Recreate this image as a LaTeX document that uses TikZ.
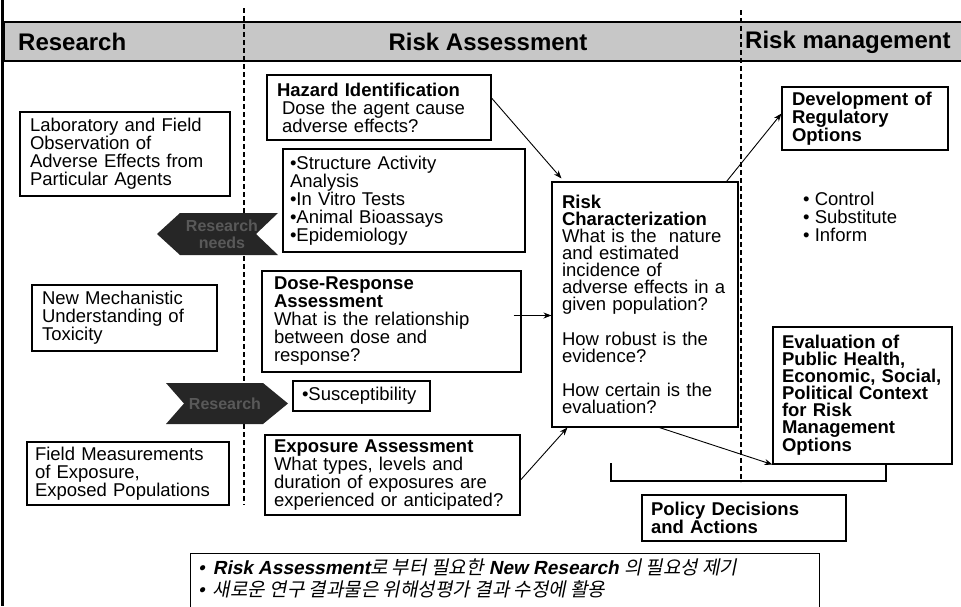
\documentclass[tikz,border=0pt]{standalone}
\usepackage{fontspec}
\setmainfont{Liberation Sans}
\newfontfamily\krfont{Noto Sans CJK KR}
\usetikzlibrary{arrows.meta}

\begin{document}
\begin{tikzpicture}[x=1pt,y=-1pt,
  box/.style={draw, line width=1.1pt, align=left, inner ysep=2pt,
    font=\fontsize{18.5}{18}\selectfont},
  tight/.style={font=\fontsize{18.5}{17}\selectfont},
  arr/.style={-{Stealth[length=8pt,width=6pt]}, line width=0.9pt},
  hdr/.style={font=\fontsize{24}{24}\selectfont\bfseries, inner sep=0pt},
  divider/.style={line width=1.4pt, dash pattern=on 5pt off 3pt},
  banner/.style={fill=black!85},
  bannertext/.style={text=black!65, font=\fontsize{16}{17}\selectfont\bfseries,
    align=center, inner sep=0pt},
  noteline/.style={transform shape, anchor=base west, inner sep=0pt,
    font=\fontsize{19}{22}\selectfont}
]
\clip (0,0) rectangle (961,606);
\fill[white] (0,0) rectangle (961,606);

% left rule and header band
\draw[line width=3pt] (2,0) -- (2,606);
\draw[line width=1.4pt, fill=black!22] (4,22) rectangle (966,61);
\node[hdr, anchor=west] (hres) at (18,42) {Research};
\node[hdr] (hra) at (488,42) {Risk Assessment};
\node[hdr, anchor=west] (hrm) at (745,42) {Risk management};

% column dividers
\draw[divider] (244,8) -- (244,505);
\draw[divider] (741,10) -- (741,482);

% research column
\node[box, minimum width=210pt, minimum height=84pt, inner xsep=10pt, text width=190pt]
  (lab) at (125,154) {Laboratory and Field\\Observation of\\Adverse Effects from\\Particular Agents};
\node[box, minimum width=185pt, minimum height=66pt, inner xsep=10pt, text width=165pt]
  (mech) at (124.5,318) {New Mechanistic\\Understanding of\\Toxicity};
\node[box, minimum width=202pt, minimum height=63pt, inner xsep=8pt, text width=186pt]
  (field) at (128,473.5) {Field Measurements\\of Exposure,\\Exposed Populations};

% research banners
\fill[banner] (157,234) -- (180,213) -- (278,213) -- (256,234) -- (278,255) -- (180,255) -- cycle;
\node[bannertext] (needs) at (222,234) {Research\\needs};
\fill[banner] (166,383) -- (263,383) -- (288,403.5) -- (263,424) -- (166,424) -- (184,403.5) -- cycle;
\node[bannertext] (resb) at (225,403.5) {Research};

% risk assessment column
\node[box, minimum width=224pt, minimum height=65pt, inner xsep=10pt, text width=204pt]
  (haz) at (379,107.5) {\textbf{Hazard Identification}\\\hspace*{5pt}Dose the agent cause\\\hspace*{5pt}adverse effects?};
\node[box, minimum width=242pt, minimum height=103pt, inner xsep=7pt, text width=228pt]
  (tests) at (404,200.5) {•Structure Activity\\Analysis\\•In Vitro Tests\\•Animal Bioassays\\•Epidemiology};
\node[box, minimum width=259pt, minimum height=101pt, inner xsep=12pt, text width=235pt]
  (dose) at (391.5,321.5) {\textbf{Dose-Response}\\\textbf{Assessment}\\What is the relationship\\between dose and\\response?};
\node[box, minimum width=137pt, minimum height=30pt, inner xsep=9pt, text width=119pt]
  (susc) at (361.5,396) {•Susceptibility};
\node[box, minimum width=255pt, minimum height=80pt, inner xsep=9pt, text width=237pt]
  (expo) at (392.5,475) {\textbf{Exposure Assessment}\\What types, levels and\\duration of exposures are\\experienced or anticipated?};
\node[box, tight, minimum width=186pt, minimum height=245pt, inner xsep=10pt, text width=166pt]
  (rc) at (645,304.5) {\textbf{Risk}\\\textbf{Characterization}\\What is the\ \ nature\\and estimated\\incidence of\\adverse effects in a\\given population?\\[17pt]How robust is the\\evidence?\\[17pt]How certain is the\\evaluation?};

% risk management column
\node[box, minimum width=166pt, minimum height=63pt, inner xsep=10pt, text width=146pt]
  (dev) at (865,118.5) {\textbf{Development of}\\\textbf{Regulatory}\\\textbf{Options}};
\node[align=left, anchor=north west, inner sep=0pt, font=\fontsize{18.5}{18}\selectfont]
  (opts) at (803,192) {• Control\\• Substitute\\• Inform};
\node[box, tight, minimum width=179pt, minimum height=137pt, inner xsep=9pt, text width=161pt]
  (eval) at (862.5,395.5) {\textbf{Evaluation of}\\\textbf{Public Health,}\\\textbf{Economic, Social,}\\\textbf{Political Context}\\\textbf{for Risk}\\\textbf{Management}\\\textbf{Options}};
\node[box, minimum width=204pt, minimum height=46pt, inner xsep=9pt, text width=186pt]
  (policy) at (744,518) {\textbf{Policy Decisions}\\\textbf{and Actions}};

% connectors
\draw[arr] ([yshift=9.5pt]haz.east) -- ([xshift=10pt,yshift=3pt]rc.north west);
\coordinate (dsrc) at ([xshift=-8pt,yshift=6pt]dose.east);
\draw[arr] (dsrc) -- (dsrc -| rc.west);
\draw[arr] ([yshift=-5pt]expo.east) -- ([xshift=16pt]rc.south west);
\draw[arr] ([xshift=108pt]rc.south west) -- (eval.south west);
\draw[arr] ([xshift=-12pt]rc.north east) -- ([yshift=5pt]dev.west);
\coordinate (brk) at (611,463);
\draw[line width=1.1pt] (brk) -- ++(0,18) -| ([xshift=23.5pt]eval.south);

% note box with slanted text, one line per baseline
\node[draw, line width=1.1pt, minimum width=629pt, minimum height=70pt, anchor=north west, inner sep=0pt]
  (note) at (190,553) {};
\begin{scope}[shift={(198,574)}, xslant=0.2]
\node[noteline] (noteone) at (0,0) {•\hspace{8pt}\textbf{Risk Assessment}{\krfont 로 부터 필요한} \textbf{New Research} {\krfont 의 필요성 제기}};
\end{scope}
\begin{scope}[shift={(198,596)}, xslant=0.2]
\node[noteline] (notetwo) at (0,0) {•\hspace{8pt}{\krfont 새로운 연구 결과물은 위해성평가 결과 수정에 활용}};
\end{scope}
\end{tikzpicture}
\end{document}
